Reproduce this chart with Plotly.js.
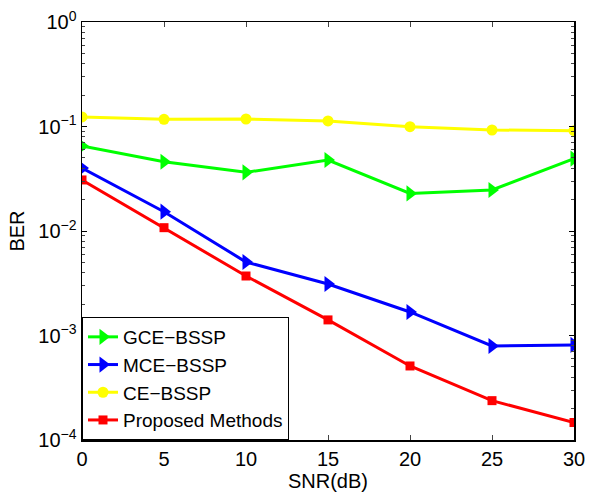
<!DOCTYPE html>
<html>
<head>
<meta charset="utf-8">
<script src="https://cdn.plot.ly/plotly-3.0.1.min.js"></script>
<style>html,body{margin:0;padding:0;background:#fff}#chart{width:597px;height:494px}</style>
</head>
<body>
<div id="chart"></div>
<script>
const snr = [0, 5, 10, 15, 20, 25, 30];
const gceBssp = [0.065, 0.046, 0.0364, 0.0478, 0.0229, 0.0247, 0.0492];
const mceBssp = [0.040, 0.0153, 0.00505, 0.00311, 0.00168, 0.000794, 0.000812];
const ceBssp = [0.1236, 0.117, 0.118, 0.113, 0.0995, 0.0926, 0.0913];
const proposed = [0.0308, 0.01076, 0.00371, 0.00141, 0.000511, 0.000238, 0.000147];
const seriesNames = ['GCE\u2212BSSP', 'MCE\u2212BSSP', 'CE\u2212BSSP', 'Proposed Methods'];
const yTickVals = [1e-4, 1e-3, 1e-2, 1e-1, 1];
const yTickText = ['10<sup>\u22124</sup>', '10<sup>\u22123</sup>', '10<sup>\u22122</sup>', '10<sup>\u22121</sup>', '10<sup>0</sup>'];
const xTickVals = [0, 5, 10, 15, 20, 25, 30];

const minorVals = [];
for (let e = -4; e < 0; e++) {
  for (let m = 2; m <= 9; m++) minorVals.push(m * Math.pow(10, e));
}

const font = {family: 'Liberation Sans, Arial, sans-serif', size: 20, color: '#000'};

const traces = [
  {x: snr, y: gceBssp, name: seriesNames[0], mode: 'lines+markers',
   line: {color: '#00ff00', width: 3}, marker: {symbol: 'triangle-right', size: 14, color: '#00ff00'}},
  {x: snr, y: mceBssp, name: seriesNames[1], mode: 'lines+markers',
   line: {color: '#0000ff', width: 3}, marker: {symbol: 'triangle-right', size: 14, color: '#0000ff'}},
  {x: snr, y: ceBssp, name: seriesNames[2], mode: 'lines+markers',
   line: {color: '#ffff00', width: 3}, marker: {symbol: 'circle', size: 11, color: '#ffff00'}},
  {x: snr, y: proposed, name: seriesNames[3], mode: 'lines+markers',
   line: {color: '#ff0000', width: 3}, marker: {symbol: 'square', size: 9, color: '#ff0000'}}
];

const layout = {
  width: 597, height: 494,
  margin: {l: 82, r: 23, t: 22, b: 54, pad: 0},
  paper_bgcolor: '#fff', plot_bgcolor: '#fff',
  font: font,
  showlegend: true,
  legend: {x: 0, y: 0, xanchor: 'left', yanchor: 'bottom',
    bgcolor: '#fff', bordercolor: '#000', borderwidth: 1,
    font: {family: font.family, size: 19, color: '#000'},
    tracegroupgap: 0, itemwidth: 30},
  xaxis: {
    range: [0, 30], tickvals: xTickVals, ticks: 'inside', ticklen: 5, tickwidth: 1,
    tickcolor: '#444', showline: true, linecolor: '#000', linewidth: 1.5, mirror: 'ticks',
    showgrid: false, zeroline: false, tickfont: font,
    title: {text: 'SNR(dB)', font: font, standoff: 1}
  },
  yaxis: {
    type: 'log', range: [-4, 0], tickvals: yTickVals, ticktext: yTickText,
    ticks: 'inside', ticklen: 5, tickwidth: 1, tickcolor: '#000',
    showline: true, linecolor: '#000', linewidth: 1.5, mirror: 'ticks',
    showgrid: false, zeroline: false, tickfont: font,
    minor: {tickvals: minorVals, ticks: 'inside', ticklen: 3, tickcolor: '#444', showgrid: false},
    title: {text: 'BER', font: font, standoff: 8}
  }
};

Plotly.newPlot('chart', traces, layout, {displayModeBar: false, staticPlot: true});
</script>
</body>
</html>
